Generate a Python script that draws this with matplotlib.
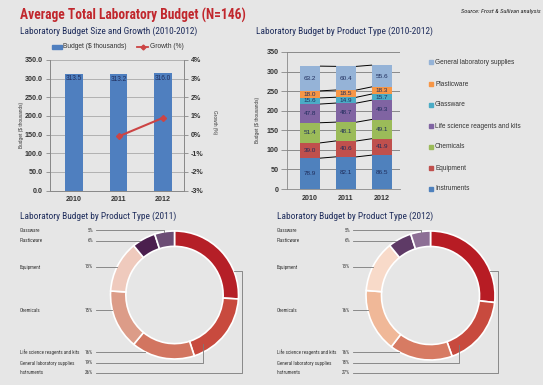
import numpy as np
import matplotlib.pyplot as plt
from matplotlib.patches import Rectangle
import matplotlib.font_manager as fm

W, H = 543, 385
BG = "#e6e6e6"
NAVY = "#1f2d5c"
TITLE_RED = "#c1272d"
TXT = "#333333"

# narrow family for titles/donut labels, regular family for the chart text
avail = {f.name for f in fm.fontManager.ttflist}
NARROW = next((f for f in ["Liberation Sans Narrow", "Roboto Condensed", "Roboto"] if f in avail),
              "DejaVu Sans")
K = 1.2 if "Narrow" in NARROW or "Condensed" in NARROW else 1.0
PLAIN = next((f for f in ["Liberation Sans", "Roboto"] if f in avail), "DejaVu Sans")
plt.rcParams['font.family'] = [PLAIN, 'DejaVu Sans']
NF = [NARROW, 'DejaVu Sans']

# ---- data ----
years = ["2010", "2011", "2012"]
budget = [313.5, 313.2, 316.0]
growth = [np.nan, -0.1, 0.9]

seg_names = ["Instruments", "Equipment", "Chemicals", "Life science reagents and kits",
             "Glassware", "Plasticware", "General laboratory supplies"]
instruments = [78.9, 82.1, 86.5]
equipment = [39.0, 40.6, 41.9]
chemicals = [51.4, 48.1, 49.1]
life_science = [47.8, 48.7, 49.3]
glassware = [15.6, 14.9, 15.7]
plasticware = [18.0, 18.5, 18.3]
general = [63.2, 60.4, 55.6]
seg_colors = ["#4f81bd", "#c0504d", "#9bbb59", "#8064a2", "#4bacc6", "#f79646", "#95b3d7"]

donut_names = ["Instruments", "General laboratory supplies", "Life science reagents and kits",
               "Chemicals", "Equipment", "Plasticware", "Glassware"]
share_2011 = [26, 19, 16, 15, 13, 6, 5]
share_2012 = [27, 18, 16, 16, 13, 6, 5]
colors_2011 = ["#b51f27", "#c84a3e", "#d27560", "#dc9c88", "#efcabd", "#4b1f4e", "#6c4d75"]
colors_2012 = ["#b71c24", "#c84a3e", "#d77b63", "#f0b898", "#f8dac9", "#5e3a66", "#8d6f95"]


def px_axes(x0, y0, x1, y1, **kw):
    return fig.add_axes([x0 / W, 1 - y1 / H, (x1 - x0) / W, (y1 - y0) / H], **kw)


fig = plt.figure(figsize=(W / 100, H / 100), dpi=100, facecolor=BG)

# overlay in pixel coordinates for titles, legends, leaders
ov = fig.add_axes([0, 0, 1, 1], zorder=10)
ov.set_xlim(0, W)
ov.set_ylim(H, 0)
ov.axis("off")
ov.patch.set_alpha(0)

ov.text(20, 15, "Average Total Laboratory Budget (N=146)", color=TITLE_RED, fontsize=8.1 * K,
        fontweight="bold", va="center", ha="left", family=NF)
ov.text(541, 11, "Source: Frost & Sullivan analysis", fontsize=3.8 * K, style="italic",
        color="#222222", ha="right", va="center", family=NF)
ov.text(20, 31, "Laboratory Budget Size and Growth (2010-2012)", color=NAVY, fontsize=5.6 * K,
        va="center", family=NF)
ov.text(256, 31, "Laboratory Budget by Product Type (2010-2012)", color=NAVY, fontsize=5.6 * K,
        va="center", family=NF)

# ---- chart 1: budget & growth ----
x = np.arange(len(years))
ax1 = px_axes(50, 60, 184, 190.5)
ax1.patch.set_alpha(0)
bars = ax1.bar(x, budget, width=0.4, color="#4f7fbf", zorder=2)
for b, v in zip(bars, budget):
    ax1.text(b.get_x() + b.get_width() / 2, v - 5, f"{v:.1f}", ha="center", va="top",
             fontsize=4.7, color=NAVY, zorder=3)
ax1.set_xlim(-0.54, 2.47)
ax1.set_ylim(0, 350)
ax1.set_yticks(np.arange(0, 351, 50))
ax1.set_yticklabels([f"{v:.1f}" for v in np.arange(0, 351, 50)])
ax1.set_xticks(x)
ax1.set_xticklabels(years)
ax1.grid(axis="y", color="#a8a8a8", lw=0.6)
ax1.set_axisbelow(True)
ax1b = ax1.twinx()
ax1b.plot(x, growth, color="#cc4444", marker="D", ms=3, lw=1.5, zorder=4)
ax1b.set_ylim(-3, 4)
ax1b.set_yticks(range(-3, 5))
ax1b.set_yticklabels([f"{v}%" for v in range(-3, 5)])
for a in (ax1, ax1b):
    a.tick_params(labelsize=5.1, colors="#888888", labelcolor=TXT, length=3, width=0.6, pad=2)
    for s in a.spines.values():
        s.set_color("#888888")
        s.set_linewidth(0.6)
    a.spines["top"].set_visible(False)
    for lab in a.get_yticklabels() + a.get_xticklabels():
        lab.set_fontweight("bold")
ax1.tick_params(axis="x", length=0, pad=4)

ov.add_patch(Rectangle((52, 45), 10, 4, color="#4f7fbf"))
ov.text(63, 47, "Budget ($ thousands)", fontsize=4.8, color=TXT, va="center")
ov.plot([137, 148], [47, 47], color="#cc4444", lw=1.3)
ov.plot([142.5], [47], marker="D", ms=2.5, color="#cc4444")
ov.text(150, 47, "Growth (%)", fontsize=4.8, color=TXT, va="center")
ov.text(22, 125, "Budget ($ thousands)", fontsize=3.4, rotation=90, ha="center",
        va="center", color=TXT)
ov.text(214, 122, "Growth (%)", fontsize=3.4, rotation=270, ha="center", va="center",
        color=TXT)
ov.text(258, 120, "Budget ($ thousands)", fontsize=3.4, rotation=90, ha="center",
        va="center", color=TXT)

# ---- chart 2: stacked by product type ----
ax2 = px_axes(287, 52, 400, 189)
ax2.patch.set_alpha(0)
series = [instruments, equipment, chemicals, life_science, glassware, plasticware, general]
bw = 0.58
bottom = np.zeros(3)
for vals, col in zip(series, seg_colors):
    vals = np.array(vals)
    ax2.bar(x, vals, bottom=bottom, width=bw, color=col, zorder=2)
    for xi, v, b0 in zip(x, vals, bottom):
        ax2.text(xi, b0 + v / 2, f"{v:.1f}", ha="center", va="center", fontsize=4.6,
                 color=NAVY, zorder=3)
    bottom = bottom + vals
    for i in range(2):
        ax2.plot([x[i] + bw / 2, x[i + 1] - bw / 2], [bottom[i], bottom[i + 1]],
                 color="black", lw=0.7, zorder=3)
ax2.set_xlim(-0.64, 2.5)
ax2.set_ylim(0, 350)
ax2.set_yticks(np.arange(0, 351, 50))
ax2.set_xticks(x)
ax2.set_xticklabels(years)
ax2.grid(axis="y", color="#8a8a8a", lw=0.7)
ax2.set_axisbelow(True)
ax2.tick_params(labelsize=5.1, colors="#888888", labelcolor=TXT, length=4, width=0.6, pad=2)
ax2.tick_params(axis="x", length=0, pad=4)
for lab in ax2.get_yticklabels() + ax2.get_xticklabels():
    lab.set_fontweight("bold")
for s in ("top", "right"):
    ax2.spines[s].set_visible(False)
for s in ("left", "bottom"):
    ax2.spines[s].set_color("#888888")
    ax2.spines[s].set_linewidth(0.6)

legend_y = [189, 168, 147, 126, 105, 84, 62]
for name, col, ly in zip(seg_names, seg_colors, legend_y):
    ov.add_patch(Rectangle((429, ly - 2), 4, 4, color=col))
    ov.text(435, ly, name, fontsize=4.7, color=TXT, va="center")

# ---- donuts ----
label_y = [373, 363, 352, 310, 267, 241, 230]
routes = ["outside", "below", "left", "left", "left", "left", "above"]


def donut(cx, cy, R, shares, cols, name_x, pct_x, title, title_x):
    ax = px_axes(cx - R, cy - R, cx + R, cy + R)
    ax.pie(shares, colors=cols, startangle=90, counterclock=False, radius=1,
           wedgeprops=dict(width=0.24, edgecolor="white", linewidth=1.2))
    ax.set_xlim(-1, 1)
    ax.set_ylim(-1, 1)
    ov.text(title_x, 216, title, color=NAVY, fontsize=5.6 * K, va="center", family=NF)
    frac = np.array(shares) / np.sum(shares)
    mids = (np.cumsum(frac) - frac / 2) * 360
    rm = R * 0.88
    for name, s, ly, route, a in zip(donut_names, shares, label_y, routes, mids):
        ov.text(name_x, ly, name, fontsize=3.0 * K, color=TXT, va="center", family=NF)
        ov.text(pct_x, ly, f"{s}%", fontsize=3.0 * K, color=TXT, va="center", ha="right",
                family=NF)
        x0 = pct_x + 3
        t = np.radians(a)
        if route == "left":
            xs = [x0, cx - np.sqrt(R ** 2 - (ly - cy) ** 2)]
            ys = [ly, ly]
        elif route == "above":
            xt = cx + R * np.sin(t)
            xs = [x0, xt, xt]
            ys = [ly, ly, cy - R * np.cos(t)]
        elif route == "below":
            ang = np.radians(150)
            xt = cx + rm * np.sin(ang)
            xs = [x0, xt, xt]
            ys = [ly, ly, cy - rm * np.cos(ang)]
        else:
            ang = np.radians(68)
            yt = cy - R * np.cos(ang)
            xs = [x0, cx + R + 3, cx + R + 3, cx + R * np.sin(ang)]
            ys = [ly, ly, yt, yt]
        ov.plot(xs, ys, color="#7a7a7a", lw=0.6)


donut(174.5, 295, 64, share_2011, colors_2011, 20, 93,
      "Laboratory Budget by Product Type (2011)", 20)
donut(430.5, 295.5, 64.5, share_2012, colors_2012, 277, 350,
      "Laboratory Budget by Product Type (2012)", 277)

fig.savefig("out.png", dpi=100, facecolor=BG)
